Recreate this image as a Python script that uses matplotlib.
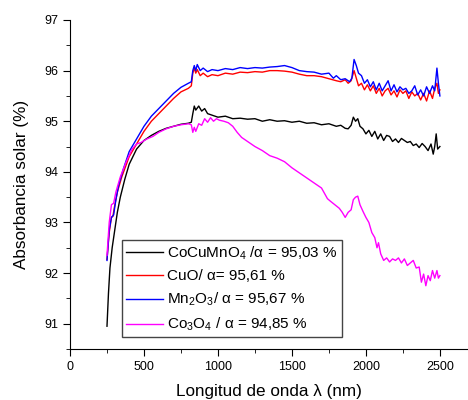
import numpy as np
import matplotlib
matplotlib.use('Agg')
import matplotlib.pyplot as plt
from matplotlib.ticker import MultipleLocator

plt.rcParams['font.family'] = ['Liberation Sans', 'DejaVu Sans']
plt.rcParams['mathtext.fontset'] = 'custom'
plt.rcParams['mathtext.rm'] = 'Liberation Sans'
plt.rcParams['mathtext.it'] = 'Liberation Sans:italic'

# CoCuMnO4
wl_black = [250, 260, 270, 285, 300, 320, 340, 370, 400, 450, 500, 550, 600, 650,
            700, 750, 800, 820, 830, 840, 850, 870, 890, 910, 930, 960, 1000, 1050,
            1100, 1150, 1200, 1250, 1300, 1350, 1400, 1450, 1500, 1550, 1600, 1650,
            1700, 1750, 1800, 1830, 1860, 1880, 1900, 1915, 1930, 1945, 1960, 1980,
            2000, 2020, 2040, 2060, 2080, 2100, 2120, 2140, 2160, 2180, 2200, 2220,
            2240, 2260, 2280, 2300, 2320, 2340, 2360, 2380, 2400, 2420, 2440, 2455,
            2465, 2475, 2485, 2500]
abs_black = [90.95, 91.6, 92.1, 92.5, 92.8, 93.2, 93.5, 93.85, 94.15, 94.45, 94.62,
             94.72, 94.8, 94.86, 94.9, 94.94, 94.96, 94.98, 95.15, 95.3, 95.22, 95.3,
             95.2, 95.25, 95.15, 95.12, 95.08, 95.1, 95.05, 95.06, 95.04, 95.05, 95.0,
             95.03, 95.0, 95.01, 94.98, 95.0, 94.96, 94.97, 94.93, 94.95, 94.9, 94.92,
             94.86, 94.85, 94.92, 95.08, 95.0, 95.05, 94.9, 94.85, 94.75, 94.82, 94.7,
             94.8, 94.65, 94.75, 94.62, 94.72, 94.7, 94.6, 94.65, 94.58, 94.66, 94.62,
             94.58, 94.6, 94.52, 94.55, 94.48, 94.56, 94.5, 94.42, 94.55, 94.35, 94.5,
             94.75, 94.45, 94.5]

# CuO
wl_red = [250, 265, 280, 290, 300, 320, 350, 400, 450, 500, 550, 600, 650, 700, 750,
          800, 820, 830, 840, 850, 860, 880, 900, 930, 960, 1000, 1050, 1100, 1150,
          1200, 1250, 1300, 1350, 1400, 1450, 1500, 1550, 1600, 1650, 1700, 1750,
          1800, 1830, 1860, 1880, 1900, 1920, 1935, 1950, 1970, 1990, 2010, 2030,
          2050, 2070, 2090, 2110, 2130, 2150, 2170, 2190, 2210, 2230, 2250, 2270,
          2290, 2310, 2330, 2350, 2370, 2390, 2410, 2430, 2450, 2465, 2480, 2490, 2500]
abs_red = [92.27, 92.8, 93.1, 93.12, 93.3, 93.6, 93.9, 94.3, 94.55, 94.8, 95.0, 95.15,
           95.3, 95.45, 95.58, 95.65, 95.7, 95.95, 96.05, 95.95, 96.02, 95.9, 95.95,
           95.88, 95.92, 95.9, 95.95, 95.93, 95.97, 95.96, 95.98, 95.97, 96.0, 96.0,
           95.99, 95.97, 95.93, 95.9, 95.9, 95.88, 95.84, 95.8, 95.78, 95.82, 95.75,
           95.8, 96.0, 95.85, 95.7, 95.75, 95.62, 95.72, 95.6, 95.7, 95.55, 95.65,
           95.5, 95.6, 95.65, 95.52, 95.6, 95.48, 95.62, 95.55, 95.6, 95.45, 95.58,
           95.5, 95.55, 95.42, 95.55, 95.4, 95.6, 95.45, 95.65, 95.75, 95.55, 95.62]

# Mn2O3
wl_blue = [250, 265, 280, 295, 310, 330, 360, 400, 450, 500, 550, 600, 650, 700, 750,
           800, 820, 830, 840, 850, 860, 880, 900, 930, 960, 1000, 1050, 1100, 1150,
           1200, 1250, 1300, 1350, 1400, 1450, 1500, 1550, 1600, 1650, 1700, 1750,
           1780, 1800, 1830, 1860, 1890, 1905, 1920, 1935, 1950, 1970, 1990, 2010,
           2030, 2050, 2070, 2090, 2110, 2130, 2150, 2170, 2190, 2210, 2230, 2250,
           2270, 2290, 2310, 2330, 2350, 2370, 2390, 2410, 2430, 2450, 2465, 2480,
           2490, 2500]
abs_blue = [92.25, 92.85, 93.1, 93.15, 93.45, 93.75, 94.05, 94.4, 94.65, 94.9, 95.1,
            95.25, 95.4, 95.55, 95.67, 95.75, 95.78, 96.0, 96.1, 96.0, 96.12, 96.0,
            96.05, 95.98, 96.02, 96.0, 96.04, 96.02, 96.06, 96.04, 96.06, 96.05, 96.07,
            96.08, 96.1, 96.06, 96.0, 95.98, 95.97, 95.93, 95.95, 95.85, 95.9, 95.82,
            95.84, 95.78, 95.85, 96.22, 96.1, 95.95, 95.9, 95.75, 95.82, 95.68, 95.78,
            95.62, 95.75, 95.6, 95.7, 95.8, 95.6, 95.72, 95.58, 95.68, 95.62, 95.65,
            95.55, 95.6, 95.7, 95.52, 95.62, 95.5, 95.68, 95.55, 95.7, 95.6, 96.05,
            95.75, 95.5]

# Co3O4
wl_mag = [250, 265, 280, 295, 310, 340, 380, 420, 450, 480, 520, 560, 600, 650, 700,
          750, 800, 820, 830, 840, 850, 870, 890, 910, 930, 950, 970, 990, 1010, 1040,
          1070, 1100, 1130, 1160, 1200, 1250, 1300, 1350, 1400, 1450, 1500, 1550,
          1600, 1650, 1700, 1740, 1760, 1790, 1820, 1840, 1860, 1880, 1900, 1915,
          1930, 1945, 1960, 1980, 2000, 2020, 2040, 2060, 2075, 2085, 2100, 2120,
          2140, 2160, 2180, 2200, 2220, 2240, 2260, 2280, 2300, 2320, 2340, 2360,
          2375, 2390, 2405, 2420, 2435, 2450, 2465, 2480, 2490, 2500]
abs_mag = [92.35, 93.0, 93.35, 93.38, 93.6, 93.9, 94.2, 94.45, 94.55, 94.58, 94.65,
           94.7, 94.78, 94.85, 94.9, 94.93, 94.95, 94.93, 94.78, 94.88, 94.8, 94.95,
           94.92, 95.05, 94.98, 95.07, 95.0, 95.05, 95.02, 95.0, 94.97, 94.9, 94.78,
           94.68, 94.6, 94.5, 94.42, 94.32, 94.27, 94.2, 94.08, 93.98, 93.88, 93.78,
           93.68, 93.47, 93.42, 93.35, 93.28, 93.2, 93.1, 93.2, 93.25, 93.45, 93.5,
           93.52, 93.35, 93.22, 93.1, 93.0, 92.8, 92.7, 92.5, 92.6, 92.38, 92.25, 92.3,
           92.22, 92.28, 92.25, 92.3, 92.2, 92.28, 92.15, 92.2, 92.25, 92.1, 92.12,
           91.82, 91.98, 91.75, 91.95, 91.85, 92.05, 91.9, 92.05, 91.9, 91.95]

labels = ['CoCuMnO$_4$ /α = 95,03 %', 'CuO/ α= 95,61 %',
          'Mn$_2$O$_3$/ α = 95,67 %', 'Co$_3$O$_4$ / α = 94,85 %']

fig = plt.figure(figsize=(4.68, 4.0), dpi=100)
ax = fig.add_axes([70 / 468, 51 / 400, 398 / 468, 329 / 400])

ax.plot(wl_black, abs_black, color='black', lw=1, label=labels[0])
ax.plot(wl_red, abs_red, color='red', lw=1, label=labels[1])
ax.plot(wl_blue, abs_blue, color='blue', lw=1, label=labels[2])
ax.plot(wl_mag, abs_mag, color='magenta', lw=1, label=labels[3])

ax.set_xlim(0, 2690)
ax.set_ylim(90.5, 97)
ax.xaxis.set_major_locator(MultipleLocator(500))
ax.xaxis.set_minor_locator(MultipleLocator(250))
ax.yaxis.set_major_locator(MultipleLocator(1))
ax.yaxis.set_minor_locator(MultipleLocator(0.5))
ax.tick_params(which='major', length=5, labelsize=9)
ax.tick_params(which='minor', length=3)
ax.spines['top'].set_visible(False)
ax.spines['right'].set_visible(False)

ax.set_xlabel('Longitud de onda λ (nm)', fontsize=12.3, labelpad=8)
ax.set_ylabel('Absorbancia solar (%)', fontsize=12.3, labelpad=11)

leg = ax.legend(loc='lower left', bbox_to_anchor=(0.131, 0.036), borderaxespad=0,
                fontsize=11, fancybox=False, edgecolor='#444444',
                handlelength=2.4, handletextpad=0.3, labelspacing=0.5,
                borderpad=0.25, framealpha=1)
leg.get_frame().set_linewidth(1)

fig.savefig('out.png', dpi=100)
